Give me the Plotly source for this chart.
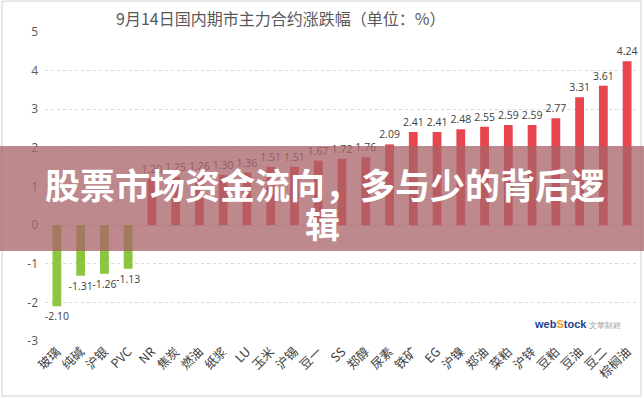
import plotly.graph_objects as go

categories = ["玻璃", "纯碱", "沪银", "PVC", "NR", "焦炭", "燃油", "纸浆", "LU", "玉米", "沪锡", "豆一",
              "SS", "郑醇", "尿素", "铁矿", "EG", "沪镍", "郑油", "菜粕", "沪锌", "豆粕", "豆油", "豆二", "棕榈油"]
values = [-2.10, -1.31, -1.26, -1.13, 1.20, 1.25, 1.26, 1.30, 1.36, 1.51, 1.51, 1.67,
          1.72, 1.76, 2.09, 2.41, 2.41, 2.48, 2.55, 2.59, 2.59, 2.77, 3.31, 3.61, 4.24]
y_ticks = [-3, -2, -1, 0, 1, 2, 3, 4, 5]

title_text = "9月14日国内期市主力合约涨跌幅（单位：%）"
overlay_line1 = "股票市场资金流向，多与少的背后逻"
overlay_line2 = "辑"

RED = "#E8464E"
GREEN = "#8CC540"
colors = [GREEN if v < 0 else RED for v in values]

fig = go.Figure()
fig.add_trace(go.Bar(
    x=categories, y=values,
    marker=dict(color=colors, line=dict(width=0)),
    text=[f"{v:.2f}" for v in values],
    textposition="outside",
    constraintext="none",
    textfont=dict(family="Open Sans, Noto Sans", size=10.5, color="#404040"),
    cliponaxis=False,
))

fig.update_layout(
    width=644, height=398,
    margin=dict(l=45, r=5, t=32, b=57, autoexpand=False),
    paper_bgcolor="white", plot_bgcolor="white",
    bargap=0.63,
    showlegend=False,
    font=dict(family="Noto Sans CJK SC", color="#595959"),
)
fig.update_yaxes(
    range=[-3, 5], tickvals=y_ticks, ticktext=[str(t) for t in y_ticks],
    showgrid=True, gridcolor="#d9d9d9", griddash="dot", gridwidth=1,
    zeroline=True, zerolinecolor="#d9d9d9", zerolinewidth=1,
    tickfont=dict(family="Open Sans, Noto Sans", size=12, color="#595959"),
    ticks="", showline=False, automargin=False, ticklabelstandoff=6,
)
fig.update_xaxes(
    tickangle=-45, showgrid=False, showline=False, ticks="", automargin=False,
    tickfont=dict(family="Noto Sans CJK SC", size=12.5, color="#404040"),
)

# outer frame
fig.add_shape(type="rect", xref="paper", yref="paper",
              x0=-0.0724, x1=1.0034, y0=-0.178, y1=1.100,
              line=dict(color="#d0d0d0", width=1), layer="below")

# semi-transparent overlay band
fig.add_shape(type="rect", xref="paper", yref="paper",
              x0=-0.08, x1=1.02, y0=0.291, y1=0.631,
              fillcolor="rgba(170,100,105,0.76)", line=dict(width=0), layer="above")

# title
fig.add_annotation(text=title_text, xref="paper", yref="paper", x=0.396, y=1.045,
                   xanchor="center", yanchor="middle",
                   showarrow=False, font=dict(family="Noto Sans CJK SC", size=16, color="#595959"))

# overlay text
fig.add_annotation(text=overlay_line1, xref="paper", yref="paper", x=0.471, y=0.511,
                   xanchor="center", yanchor="middle", showarrow=False,
                   font=dict(family="Noto Sans CJK SC", size=35, color="white", weight="bold"))
fig.add_annotation(text=overlay_line2, xref="paper", yref="paper", x=0.467, y=0.385,
                   xanchor="center", yanchor="middle", showarrow=False,
                   font=dict(family="Noto Sans CJK SC", size=35, color="white", weight="bold"))

# logo
fig.add_annotation(
    text="<b><span style='color:#1d3f8f'>web</span><span style='color:#f0a020'>S</span>"
         "<span style='color:#1d3f8f'>tock</span></b> <span style='color:#9a9a9a;font-size:8px'>文華財經</span>",
    xref="paper", yref="paper", x=0.897, y=0.055, xanchor="center", yanchor="middle",
    showarrow=False, font=dict(family="Liberation Sans", size=11))

fig.write_html("out.html", post_script="document.body.style.margin='0';",
               config={"displayModeBar": False})
